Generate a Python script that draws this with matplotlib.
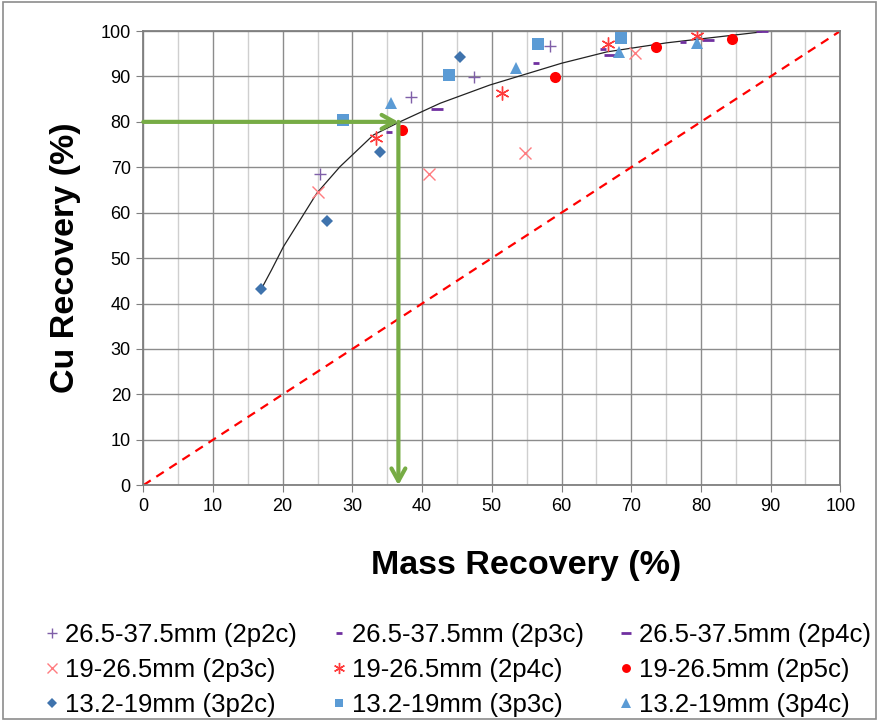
import matplotlib.pyplot as plt
from matplotlib.patches import Rectangle
from matplotlib.ticker import MultipleLocator

plt.rcParams['font.family'] = ['Liberation Sans', 'DejaVu Sans']

# --- data (mass recovery %, Cu recovery %) ---
labels = [
    '26.5-37.5mm (2p2c)', '26.5-37.5mm (2p3c)', '26.5-37.5mm (2p4c)',
    '19-26.5mm (2p3c)', '19-26.5mm (2p4c)', '19-26.5mm (2p5c)',
    '13.2-19mm (3p2c)', '13.2-19mm (3p3c)', '13.2-19mm (3p4c)',
]
mass = [
    [25.3, 38.4, 47.4, 58.4],
    [35.2, 56.3, 65.9, 77.5],
    [42.2, 67.0, 81.0, 88.7],
    [25.0, 41.0, 54.7, 70.5],
    [33.4, 51.4, 66.6, 79.4],
    [37.1, 59.1, 73.5, 84.4],
    [16.9, 26.4, 34.0, 45.4],
    [28.7, 43.9, 56.6, 68.5],
    [35.6, 53.5, 68.2, 79.5],
]
cu = [
    [68.5, 85.5, 89.9, 96.7],
    [77.8, 92.9, 96.0, 97.6],
    [82.8, 94.7, 98.0, 99.9],
    [64.5, 68.6, 73.2, 95.1],
    [76.4, 86.3, 97.1, 98.8],
    [78.3, 89.9, 96.4, 98.2],
    [43.1, 58.2, 73.4, 94.3],
    [80.5, 90.3, 97.1, 98.4],
    [84.1, 91.8, 95.4, 97.3],
]

# trend line
trend_x = [16.9, 18.4, 20.1, 22.5, 24.9, 28.2, 33.0, 36.8, 42.6, 49.7, 60.0, 66.5, 75.1, 88.7]
trend_y = [43.1, 47.4, 52.5, 58.4, 64.3, 70.1, 77.1, 80.0, 84.1, 88.1, 92.9, 95.4, 97.4, 99.8]

target_cu = 80
target_mass = 36.6

# marker styles per series
styles = [
    dict(marker='+', color='#7F5FA8', ms=9, mew=1.0),
    dict(marker='_', color='#7030A0', ms=5, mew=2.0),
    dict(marker='_', color='#7030A0', ms=9, mew=2.0),
    dict(marker='x', color='#FF7C80', ms=9, mew=1.0),
    dict(marker=(6, 2, 0), color='#FF3B3B', ms=10, mew=1.0),
    dict(marker='o', color='#FF0000', ms=8, mew=0),
    dict(marker='D', color='#3F73AD', ms=6.5, mew=0),
    dict(marker='s', color='#5B9BD5', ms=8, mew=0),
    dict(marker='^', color='#5B9BD5', ms=9, mew=0),
]

fig = plt.figure(figsize=(8.79, 7.21), dpi=100)
ax = fig.add_axes([0.163, 0.327, 0.793, 0.630])

# grid
ax.set_xlim(0, 100)
ax.set_ylim(0, 100)
ax.xaxis.set_major_locator(MultipleLocator(10))
ax.xaxis.set_minor_locator(MultipleLocator(5))
ax.yaxis.set_major_locator(MultipleLocator(10))
ax.grid(True, which='major', color='#8C8C8C', lw=1.0)
ax.grid(True, which='minor', axis='x', color='#CFCFCF', lw=1.0)
ax.set_axisbelow(True)
for s in ax.spines.values():
    s.set_color('#7F7F7F')
    s.set_linewidth(1.3)
ax.tick_params(which='major', length=5, color='#7F7F7F', labelsize=13, pad=4)
ax.tick_params(which='minor', length=0)

# 1:1 line
ax.plot([0, 100], [0, 100], color='#FF0000', ls=(0, (4, 3)), lw=1.6, zorder=2)

# trend line
ax.plot(trend_x, trend_y, color='#222222', lw=0.9, zorder=3)

handles = []
for lab, xs, ys, st in zip(labels, mass, cu, styles):
    h, = ax.plot(xs, ys, ls='none', label=lab, zorder=4, **st)
    handles.append(h)

# green arrows
green = '#77AC45'
ax.annotate('', xy=(target_mass, target_cu), xytext=(0, target_cu),
            arrowprops=dict(arrowstyle='->,head_length=0.9,head_width=0.5',
                            color=green, lw=3, shrinkA=0, shrinkB=0), zorder=5)
ax.annotate('', xy=(target_mass, 0), xytext=(target_mass, target_cu),
            arrowprops=dict(arrowstyle='->,head_length=0.9,head_width=0.5',
                            color=green, lw=3, shrinkA=0, shrinkB=0), zorder=5)

ax.set_xlabel('Mass Recovery (%)', fontsize=24.5, fontweight='bold')
ax.xaxis.set_label_coords(0.5495, -0.143)
ax.set_ylabel('Cu Recovery (%)', fontsize=24.5, fontweight='bold', labelpad=14)

# legend: matplotlib fills column by column, reorder so rows match
order = [0, 3, 6, 1, 4, 7, 2, 5, 8]
fig.legend([handles[i] for i in order], [labels[i] for i in order],
           ncol=3, loc='lower left', bbox_to_anchor=(0.0504, 0.006),
           frameon=False, fontsize=18.5, handlelength=0.6, handletextpad=0.2,
           columnspacing=1.35, labelspacing=0.42, borderpad=0, borderaxespad=0,
           markerscale=0.8)

# chart area border
fig.patches.append(Rectangle((0.003, 0.003), 0.994, 0.994, transform=fig.transFigure,
                             fill=False, edgecolor='#8C8C8C', lw=1.2))

fig.savefig('out.png', dpi=100)
